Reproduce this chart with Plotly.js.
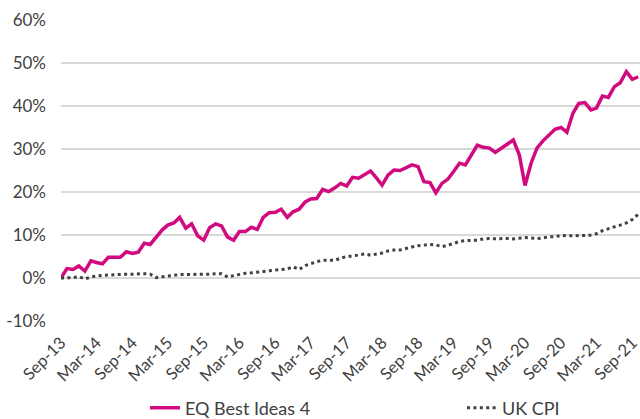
<!DOCTYPE html>
<html>
<head>
<meta charset="utf-8">
<script src="https://cdn.plot.ly/plotly-3.0.1.min.js"></script>
<style>
html,body{margin:0;padding:0;background:#fff;}
#chart{width:640px;height:419px;}
</style>
</head>
<body>
<div id="chart"></div>
<script>
// Monthly observations, Sep-2013 to Oct-2021
var startYear = 2013, startMonth = 9;
var eqBestIdeas4 = [
  0, 2.2, 2.0, 2.8, 1.6, 4.0, 3.6, 3.3, 4.8, 4.7, 4.8, 6.1, 5.7, 6.0, 8.1, 7.8,
  9.6, 11.2, 12.3, 12.8, 14.1, 11.6, 12.6, 9.8, 8.8, 11.7, 12.6, 12.1, 9.5, 8.8,
  10.8, 10.8, 11.8, 11.3, 14.1, 15.2, 15.3, 16.0, 14.1, 15.4, 16.0, 17.7, 18.4,
  18.5, 20.6, 20.1, 20.9, 22.0, 21.4, 23.4, 23.2, 24.0, 24.9, 23.2, 21.6, 24.0,
  25.1, 25.0, 25.7, 26.3, 25.9, 22.4, 22.2, 19.8, 22.0, 23.0, 24.7, 26.7, 26.3,
  28.6, 30.9, 30.4, 30.2, 29.2, 30.2, 31.2, 32.1, 28.6, 21.5, 26.7, 30.2, 31.9,
  33.1, 34.6, 35.0, 33.9, 38.3, 40.6, 40.8, 39.1, 39.5, 42.3, 42.0, 44.5, 45.4,
  48.0, 46.2, 46.8
];
var ukCPI = [
  0, 0.0, 0.1, 0.3, -0.2, 0.2, 0.5, 0.6, 0.7, 0.7, 0.8, 0.9, 0.9, 1.0, 1.0, 0.9,
  0.1, 0.3, 0.5, 0.7, 0.8, 0.8, 0.8, 0.9, 0.9, 0.9, 1.0, 1.0, 0.25, 0.5,
  0.9, 1.1, 1.2, 1.3, 1.5, 1.7, 1.8, 2.0, 2.1, 2.6, 2.0, 2.9, 3.4,
  3.8, 4.1, 4.1, 4.1, 4.6, 5.0, 5.1, 5.4, 5.6, 5.3, 5.5, 5.8, 6.3,
  6.5, 6.5, 6.9, 7.2, 7.5, 7.6, 7.8, 7.7, 7.3, 7.6, 8.1, 8.5, 8.7,
  8.7, 8.8, 9.1, 9.2, 9.1, 9.2, 9.2, 9.1, 9.3, 9.4, 9.3, 9.2, 9.3,
  9.6, 9.6, 9.9, 9.8, 9.8, 9.8, 9.9, 10.0, 10.3, 11.0, 11.5, 11.9, 12.3,
  12.8, 13.6, 14.8
];
var tickLabels = ['Sep-13','Mar-14','Sep-14','Mar-15','Sep-15','Mar-16','Sep-16','Mar-17',
  'Sep-17','Mar-18','Sep-18','Mar-19','Sep-19','Mar-20','Sep-20','Mar-21','Sep-21'];
var tickDates = ['2013-09-01','2014-03-01','2014-09-01','2015-03-01','2015-09-01','2016-03-01',
  '2016-09-01','2017-03-01','2017-09-01','2018-03-01','2018-09-01','2019-03-01','2019-09-01',
  '2020-03-01','2020-09-01','2021-03-01','2021-09-01'];
var yTicks = [-10, 0, 10, 20, 30, 40, 50, 60];
var yTickText = ['-10%','0%','10%','20%','30%','40%','50%','60%'];

function pad(n){return (n<10?'0':'')+n;}
var months = [];
for (var i = 0; i < eqBestIdeas4.length; i++) {
  var m = startMonth - 1 + i;
  months.push((startYear + Math.floor(m/12)) + '-' + pad(m%12 + 1) + '-01');
}

var xr = ['2013-09-01', '2021-10-10'];
var font = 'Lato, "Open Sans", sans-serif';
var txt = '#404040';

var traces = [
  {x: months, y: eqBestIdeas4, name: 'EQ Best Ideas 4', type: 'scatter', mode: 'lines',
   line: {color: '#d10a7f', width: 3.5}, hoverinfo: 'skip', legend: 'legend'},
  {x: months, y: ukCPI, name: 'UK CPI', type: 'scatter', mode: 'lines',
   line: {color: '#404040', width: 3, dash: '3px,3.4px'}, hoverinfo: 'skip', legend: 'legend2'}
];

var legFont = {family: font, size: 18, color: txt};
var layout = {
  width: 640, height: 419,
  margin: {l: 61, r: 0, t: 20, b: 98, autoexpand: false},
  paper_bgcolor: '#fff', plot_bgcolor: '#fff',
  font: {family: font, color: txt},
  showlegend: true,
  legend: {orientation: 'h', x: 0.145, xanchor: 'left', y: -0.289, yanchor: 'middle', font: legFont},
  legend2: {orientation: 'h', x: 0.6926, xanchor: 'left', y: -0.289, yanchor: 'middle', font: legFont},
  xaxis: {type: 'date', range: xr, tickmode: 'array', tickvals: tickDates, ticktext: tickLabels,
          tickangle: -45, ticks: '', showgrid: false, zeroline: false, showline: false, automargin: false,
          ticklabeloverflow: 'allow',
          tickfont: {family: font, size: 16.5, color: txt}, ticklabelstandoff: 8},
  xaxis2: {type: 'date', range: xr, overlaying: 'x', anchor: 'free', position: 1/7, side: 'bottom',
           tick0: '2013-09-01', dtick: 'M3', ticks: 'outside', ticklen: 5, tickwidth: 1.5,
           tickcolor: '#d0d0d0', showticklabels: false, showgrid: false, zeroline: false, showline: false},
  yaxis: {range: [-10, 60], tickmode: 'array', tickvals: yTicks, ticktext: yTickText, automargin: false,
          showgrid: true, gridcolor: '#d9d9d9', gridwidth: 1.5, zeroline: false, showline: false,
          ticks: '', ticklabelstandoff: 14, tickfont: {family: font, size: 17, color: txt}}
};

Plotly.newPlot('chart', traces, layout, {staticPlot: true, displayModeBar: false});
</script>
</body>
</html>
